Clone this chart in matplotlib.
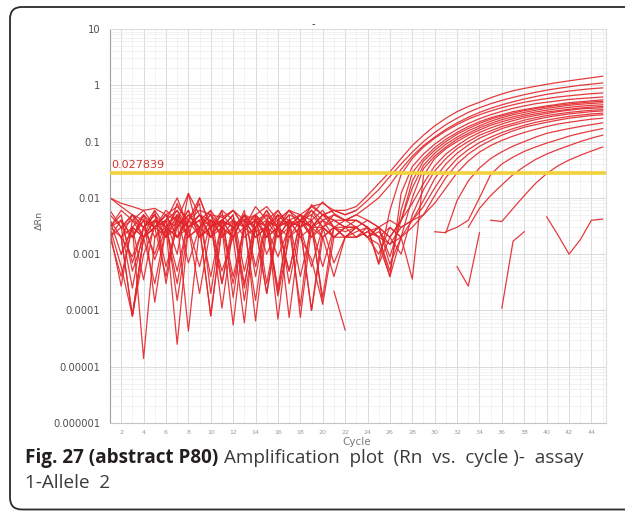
import numpy as np
import matplotlib
matplotlib.use("Agg")
import matplotlib.pyplot as plt
import matplotlib.ticker as mticker
from matplotlib.patches import FancyBboxPatch
from matplotlib.transforms import IdentityTransform

N = None
cycles = list(range(1, 46))
threshold = 0.027839
threshold_label = "0.027839"
y_ticks = [1e-6, 1e-5, 1e-4, 1e-3, 1e-2, 1e-1, 1, 10]
y_tick_labels = ["0.000001", "0.00001", "0.0001", "0.001", "0.01", "0.1", "1", "10"]
x_ticks = list(range(2, 45, 2))

# amplifying wells (cycles 1..45, None = not shown on log scale)
curve_01 = [1e-2, 8e-3, 7e-3, 6e-3, 6.5e-3, 5e-3, 7e-3, 4e-3, 6e-3, 5e-3, 4.5e-3, 6e-3, 4e-3, 5e-3, 7e-3, 4e-3, 6e-3, 5e-3, 7e-3, 5e-3, 6e-3, 6e-3,
            7e-3, 1.1e-2, 1.8e-2, 2.9e-2, 5e-2, 8.5e-2, .13, .19, .26, .34, .42, .5, .6, .7, .8, .88, .96, 1.04, 1.12, 1.2, 1.28, 1.36, 1.45]
curve_02 = [3e-3, 2e-3, 9e-4, 3e-3, 5e-3, 2e-3, 8e-3, 3e-3, 4e-3, 6e-3, 3e-4, 3e-3, 5e-3, 2.5e-3, 3e-3, 6e-3, 3e-3, 4e-3, 7e-3, 8e-3, 6e-3, 5e-3,
            6e-3, 9e-3, 1.4e-2, 2.4e-2, 4e-2, 6.5e-2, .1, .145, .2, .26, .33, .4, .47, .54, .61, .68, .75, .82, .88, .94, 1.0, 1.05, 1.1]
curve_03 = [N, 2e-3, 8e-5, 1e-3, 3e-3, 4e-3, 1e-3, 1.2e-2, 2e-3, 3e-3, 3e-4, 4e-3, 2e-3, 3e-3, 5e-3, 2e-4, 4e-3, 2e-3, 3e-3, 5e-3, 4e-3, 4e-3,
            5e-3, 7e-3, 1e-2, 1.7e-2, 3.2e-2, 5.5e-2, 8.5e-2, .12, .165, .215, .27, .33, .39, .45, .51, .57, .63, .69, .74, .79, .83, .87, .9]
curve_04 = [4e-3, 1e-3, 3e-3, 1.4e-5, 2e-3, 3e-3, 6e-3, 2e-3, 1e-2, 3e-3, 4e-3, 2e-3, 6e-3, 4e-4, 4e-3, 3e-3, 2e-3, 4e-3, 3e-3, 6e-4, 3e-3, 4e-3,
            4e-3, 3e-3, 7e-4, 6e-3, 2.6e-2, 5e-2, 8e-2, .115, .155, .2, .25, .3, .35, .4, .45, .5, .54, .58, .62, .65, .68, .71, .73]
curve_05 = [2e-3, 4e-3, 2e-3, 5e-3, 1.4e-4, 3e-3, 2e-3, 5e-3, 3e-3, 8e-5, 3e-3, 5e-3, 5e-4, 4e-3, 1e-3, 3e-3, 5e-3, 7.5e-5, 3e-3, 4e-3, 2e-3, 3e-3,
            3e-3, 2e-3, 1.5e-3, 4e-4, 1.2e-2, 3.6e-2, 6e-2, 9e-2, .125, .165, .21, .255, .3, .345, .39, .43, .47, .5, .53, .56, .58, .6, .62]
curve_06 = [N, N, 8e-5, 2e-3, 4e-3, 3e-3, 2.5e-5, 3e-3, 5e-3, 2e-3, 4e-3, 3e-3, 2.5e-4, 5e-3, 3e-3, 2e-3, 4e-3, 5e-3, 2e-3, 3e-3, 7e-4, 2e-3,
            2.5e-3, 3e-3, 2e-3, 5e-4, 6e-3, 2.8e-2, 5e-2, 7.8e-2, .11, .145, .185, .225, .265, .3, .34, .37, .4, .43, .46, .49, .51, .53, .55]
curve_07 = [3e-3, 5e-3, 5e-4, 2e-3, 6e-3, 3e-4, 4e-3, 4.3e-5, 3e-3, 6e-3, 3e-3, 5.5e-5, 3e-3, 4e-3, 2e-3, 5e-3, 3e-3, 1.2e-4, 5e-3, 3e-3, 4e-3, 3e-3,
            3e-3, 2e-3, 3e-3, 9e-4, 4e-3, 2e-2, 4.5e-2, 7e-2, .1, .135, .17, .21, .25, .285, .32, .355, .385, .415, .44, .465, .485, .505, .52]
curve_08 = [N, 3e-3, 5e-3, 3e-3, 1e-3, 4e-3, 3e-3, 6e-3, 2e-3, 3e-3, 5e-3, 3e-3, 4e-3, 6.5e-5, 3e-3, 4e-3, 6e-3, 3e-3, 1e-4, 3e-3, 5e-3, 4e-3,
            4e-3, 3e-3, 6.6e-4, 2e-3, 4e-3, 1.5e-2, 3.8e-2, 6.2e-2, 9e-2, .12, .155, .19, .23, .265, .3, .33, .36, .39, .415, .44, .46, .475, .49]
curve_09 = [2.5e-3, 2.7e-4, 4e-3, 2e-3, 3e-3, 5e-3, 2e-3, 4e-3, 8e-3, 2e-4, 4e-3, 3e-3, 5e-3, 6e-4, 4e-3, 7e-5, 3e-3, 4e-3, 2e-3, 4e-3, 3e-3, 2e-3,
            2e-3, 2.5e-3, 2e-3, 4e-4, 2e-3, 1e-2, 3.3e-2, 5.5e-2, 8e-2, .11, .14, .175, .21, .245, .275, .305, .335, .36, .385, .405, .425, .44, .45]
curve_10 = [N, 1e-3, 3e-3, 5e-3, 2e-3, 4e-3, 1.5e-4, 3e-3, 5e-3, 4e-3, 2e-3, 4e-3, 3e-3, 5e-3, 3e-4, 4e-3, 7.5e-5, 3e-3, 4e-3, 1.3e-4, 2e-3, 3e-3,
            3e-3, 2e-3, 1e-3, 3e-3, 2e-3, 3.6e-4, 2.5e-2, 5e-2, 7.5e-2, .1, .13, .16, .195, .225, .255, .285, .31, .335, .355, .375, .395, .41, .42]
curve_11 = [3e-3, 6e-3, 4e-3, 3e-3, 5e-3, 6e-4, 3e-3, 5e-3, 3e-3, 2e-3, 6e-3, 1.7e-4, 4e-3, 3e-3, 6e-3, 2e-3, 4e-3, 3e-3, 6e-3, 4e-3, 5e-3, 4e-3,
            3e-3, 4e-3, 3e-3, 2e-3, 4e-3, 8e-3, 1.8e-2, 3.7e-2, 6e-2, 8.5e-2, .115, .145, .175, .205, .235, .265, .29, .315, .34, .36, .38, .39, .4]
curve_12 = [N, N, 2e-3, 4e-3, 3e-3, 4e-4, 5e-3, 3e-3, 4e-3, 2e-3, 3e-3, 5e-3, 1.5e-4, 3e-3, 4e-3, 2e-3, 3e-3, 5e-3, 3e-3, 2e-3, 4e-4, 2e-3,
            2e-3, 2.5e-3, 3e-3, 2e-3, 1e-3, 5e-3, 1.4e-2, 3e-2, 5e-2, 7.5e-2, .1, .13, .155, .185, .21, .24, .265, .29, .31, .33, .345, .36, .37]
curve_13 = [2e-3, 3e-3, 2.5e-4, 3e-3, 4e-3, 2e-3, 5e-3, 7e-4, 3e-3, 5e-3, 2e-3, 3e-3, 4e-3, 2e-3, 3e-3, 5e-3, 3e-4, 3e-3, 4e-3, 2e-3, 3e-3, 2.5e-3,
            3e-3, 2e-3, 2.5e-3, 1.5e-3, 3e-3, 4e-3, 9e-3, 2.2e-2, 4e-2, 6.2e-2, 8.7e-2, .115, .14, .17, .195, .22, .245, .27, .29, .31, .325, .34, .35]
curve_14 = [4e-3, 2e-3, 5e-3, 3e-3, 6e-3, 3e-3, 5e-4, 4e-3, 1e-2, 3e-3, 4e-3, 2e-3, 5e-3, 3e-3, 2e-4, 4e-3, 3e-3, 5e-3, 3e-3, 5e-3, 4e-3, 3e-3,
            4e-3, 3e-3, 2e-3, 3e-3, 2e-3, 4e-3, 7e-3, 1.5e-2, 3e-2, 5e-2, 7.2e-2, 9.6e-2, .12, .145, .17, .195, .22, .24, .26, .28, .295, .31, .32]
curve_15 = [N, 2e-3, 8e-5, 2e-3, 3e-3, 2e-3, 4e-3, 3e-3, 6e-4, 4e-3, 3e-3, 3e-4, 3e-3, 4e-3, 2e-3, 3e-3, 4e-3, 4e-4, 3e-3, 3e-3, 2e-3, 3e-3,
            2e-3, 3e-3, 2e-3, 1.5e-3, 2e-3, 3e-3, 5e-3, 1.1e-2, 2.3e-2, 4e-2, 6e-2, 8.2e-2, .105, .13, .155, .18, .2, .22, .24, .26, .275, .29, .30]
curve_16 = [3e-3, 4e-3, 2e-3, 5e-3, 3e-3, 4e-3, 6e-3, 3e-3, 5e-3, 3e-3, 4e-3, 6e-3, 3e-3, 4e-3, 5e-3, 3e-3, 6e-3, 4e-3, 5e-3, 8.5e-3, 5.3e-3, 4e-3,
            5e-3, 4e-3, 3e-3, 4e-3, 3e-3, 4e-3, 5e-3, 8e-3, 1.5e-2, 2.8e-2, 4.5e-2, 6.5e-2, 8.5e-2, .105, .125, .145, .165, .185, .205, .22, .235, .25, .26]
curve_17 = [N, 3e-3, 2e-3, 4e-3, 8e-4, 3e-3, 5e-3, 2e-3, 3e-3, 4e-3, 1.1e-4, 3e-3, 4e-3, 2e-3, 3e-3, 2.5e-4, 4e-3, 3e-3, 6e-4, 3e-3, 2e-3, 2e-3,
            3e-3, N, N, N, N, N, N, 2.5e-3, 2.4e-3, 9e-3, 2e-2, 3.4e-2, 5e-2, 6.6e-2, 8.3e-2, .1, .12, .14, .155, .17, .185, .2, .215]
curve_18 = [2e-3, 4e-4, 3e-3, 2e-3, 4e-3, 3e-3, 3e-4, 4e-3, 3e-3, 5e-3, 3e-3, 2e-3, 6e-5, 5e-3, 3e-3, 9e-4, 3e-3, 4e-3, 3e-3, 1.7e-4, 3e-3, 3e-3,
            N, N, N, N, N, N, N, N, 2.5e-3, 3e-3, 4e-3, 1e-2, 2.6e-2, 4e-2, 5.3e-2, 6.7e-2, 8e-2, 9.4e-2, .108, .125, .14, .155, .17]
curve_19 = [5e-3, 3e-3, 4e-3, 6e-3, 3e-3, 5e-3, 4e-3, 3e-3, 5e-3, 2e-3, 4e-3, 3e-3, 5e-3, 4e-3, 3e-3, 5e-3, 4e-3, 3e-3, 7.6e-3, 5e-3, 6e-3, 5e-3,
            6e-3, N, N, N, N, N, N, N, N, N, 3e-3, 6.5e-3, 1.1e-2, 1.7e-2, 2.6e-2, 3.6e-2, 4.8e-2, 6e-2, 7.2e-2, 8.5e-2, .1, .115, .13]
curve_20 = [N, N, 3e-3, 2e-3, 3e-4, 3e-3, 2e-3, 4e-3, 2e-3, 3e-3, 5e-4, 2e-3, 3e-3, 2e-3, 3e-3, 1.8e-4, 2e-3, 3e-3, 1e-4, 2e-3, 3e-3, 2e-3,
            N, N, N, N, N, N, N, N, N, N, N, N, 4e-3, 3.8e-3, 6.5e-3, 1.1e-2, 1.8e-2, 2.7e-2, 3.7e-2, 4.7e-2, 5.7e-2, 6.8e-2, 8e-2]

# non-amplifying wells
ntc_1 = [3e-3, 6e-4, 8e-5, 2e-3, 3e-3, 5e-3, 2e-3, 3e-3, 2e-4, 3e-3, 4e-3, 4e-4, 3e-3, 5e-3, 2e-3, 3e-3, 5e-4, 4e-3, 2e-3, N, 2.2e-4, 4.5e-5] + [N] * 23
ntc_2 = [N, 2e-3, 3e-3, 3.5e-4, 4e-3, 2e-3, 3e-3, 6e-3, 2e-3, 4e-3, 3e-3, 2e-3, 5e-3, 3e-3, 2e-4, 3e-3, 4e-3, 2e-3, 8e-4, 1.3e-4, N, N] + [N] * 9 + [6e-4, 2.7e-4, 2.4e-3] + [N] * 11
ntc_3 = [6e-3, 3e-3, 5e-3, 2e-3, 3e-3, 4e-3, 1e-2, 3e-3, 4e-3, 4e-4, 4e-3, 6e-3, 3e-3, 1.5e-4, 4e-3, 3e-3, 5e-3, 4e-3, 3e-3, 5e-3, 3e-3, N] + [N] * 13 + [1.1e-4, 1.7e-3, 2.5e-3] + [N] * 7
ntc_4 = [N, 4e-3, 7e-4, 3e-3, 5e-3, 3e-3, 4e-3, 2e-3, 3e-3, 8e-5, 3e-3, 4e-3, 3e-4, 3e-3, 6e-3, 3e-3, 5e-4, 4e-3, 6e-3, 3e-3, 2e-3, N] + [N] * 17 + [4.6e-3, 2.2e-3, 1e-3, 1.8e-3, 4e-3, 4.2e-3]
ntc_5 = [1e-2, 7e-3, 5e-3, 4e-3, 3e-3, 6e-3, 4e-3, 1.2e-2, 5e-3, 3e-3, 6e-3, 4e-3, 3e-3, 7e-3, 4e-3, 6e-3, 3e-3, 5e-3, 4e-3, 6e-3, 3e-3, 2e-3,
         3e-3, 2e-3, 3e-3, 6.6e-4, 2e-3] + [N] * 18

wells = [curve_01, curve_02, curve_03, curve_04, curve_05, curve_06, curve_07, curve_08, curve_09, curve_10,
         curve_11, curve_12, curve_13, curve_14, curve_15, curve_16, curve_17, curve_18, curve_19, curve_20,
         ntc_1, ntc_2, ntc_3, ntc_4, ntc_5]

W, H = 625, 511
fig = plt.figure(figsize=(W / 100, H / 100), dpi=100)
ax = fig.add_axes([110 / W, 1 - 423 / H, (606 - 110) / W, (423 - 29) / H])
ax.set_yscale('log')

for w in wells:
    ax.plot(cycles, np.array(w, dtype=float), color='#e2262b', lw=0.9, alpha=0.9, zorder=2)

ax.axhline(threshold, color='#f2d23a', lw=2.6, zorder=3)
ax.text(1.1, threshold * 1.1, threshold_label, color='#d2362e', fontsize=8, va='bottom', ha='left', zorder=4)

ax.set_xlim(1, 45.3)
ax.set_ylim(1e-6, 10)
ax.set_xticks(x_ticks)
ax.set_xticklabels([str(t) for t in x_ticks])
ax.set_xticks(cycles, minor=True)
ax.set_yticks(y_ticks)
ax.set_yticklabels(y_tick_labels)
ax.yaxis.set_minor_locator(mticker.LogLocator(base=10, subs=range(2, 10), numticks=30))
ax.yaxis.set_minor_formatter(mticker.NullFormatter())
ax.grid(which='major', color='#d6d6d6', lw=0.6)
ax.grid(which='minor', color='#ededed', lw=0.5)
ax.set_axisbelow(True)
ax.tick_params(which='minor', length=0)
ax.tick_params(axis='y', which='major', length=0, pad=7, labelsize=7.2, labelcolor='#505050')
ax.tick_params(axis='x', which='major', length=0, pad=5, labelsize=4.5, labelcolor='#9a9a9a')
ax.spines['left'].set_color('#a0a0a0')
ax.spines['bottom'].set_color('#c4c4c4')
ax.spines['top'].set_color('#dddddd')
ax.spines['right'].set_color('#dddddd')
for s in ax.spines.values():
    s.set_linewidth(0.8)

fig.text(39 / W, 1 - 220 / H, 'ΔRn', rotation=90, ha='center', va='center', fontsize=6.8, color='#666666')
fig.text(357 / W, 1 - 442 / H, 'Cycle', ha='center', va='center', fontsize=7.5, color='#7a7a7a')
fig.text(313 / W, 1 - 24 / H, '-', ha='center', va='center', fontsize=7, color='#333333')

# frame
frame = FancyBboxPatch((10, 1.5), 640, 502.5, boxstyle='round,pad=0,rounding_size=12',
                       fill=False, ec='#2b2b2b', lw=1.3, transform=IdentityTransform())
fig.add_artist(frame)

# caption
fs = 13.6
r = fig.canvas.get_renderer()
y1 = 1 - 463 / H
y2 = 1 - 488 / H
t1 = fig.text(25 / W, y1, 'Fig. 27 (abstract P80)', fontweight='bold', fontfamily='Open Sans',
              fontsize=fs, color='#231f20', va='baseline', ha='left')
bb = t1.get_window_extent(r)
fig.text((bb.x1 + 6) / W, y1, 'Amplification  plot  (Rn  vs.  cycle )-  assay', fontfamily='Open Sans',
         fontsize=fs, color='#3a3a3a', va='baseline', ha='left')
fig.text(25 / W, y2, '1-Allele  2', fontfamily='Open Sans', fontsize=fs, color='#3a3a3a',
         va='baseline', ha='left')

fig.savefig('out.png', dpi=100)
